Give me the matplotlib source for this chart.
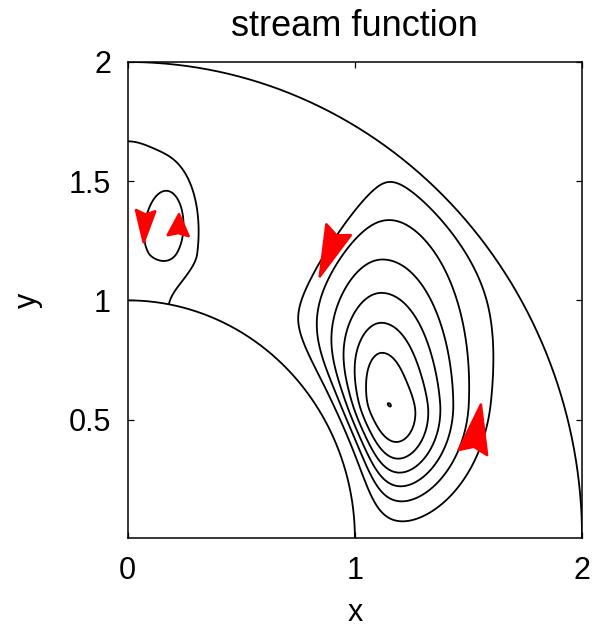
import numpy as np
import matplotlib
matplotlib.use("Agg")
import matplotlib.pyplot as plt

plt.rcParams["font.family"] = ["Liberation Sans", "DejaVu Sans"]

# ---- annulus geometry (quarter domain) ----
r_inner = 1.0
r_outer = 2.0

# ---- main convection cell ----
main_center = (1.1189, 0.5683)                   # core location (x, y)
main_scales = (0.3314, 0.2908, 0.6479, 0.3985)   # right, left, up, down
main_shape = (2.028, 0.6009, 1.3315)             # exponent base, variation, direction
inner_layer = 0.1268                             # no-slip layer at r = 1
outer_layer = 0.0640                             # no-slip layer at r = 2
separatrix = (0.9527, 0.0247)                    # angle and width of the cell edge (rad)

# ---- small cell near the vertical axis ----
small_base = (0.2663, 1.1971)        # broad part: amplitude, height
small_base_scales = (0.3547, 0.5954, 0.0994)   # width, upward, downward
small_base_tail = 0.3908             # decay towards the inner wall
small_peak = (0.2089, 0.185, 1.3282)  # core: amplitude, x, y
small_peak_scales = (0.0866, 0.17)   # core width, height

# ---- contour levels (fraction of the main-cell maximum) ----
levels = np.array([1, 2, 3, 4, 5, 6, 6.996]) / 7.0

# ---- direction markers on the streamlines ----
arrow_tip_x = [0.07, 0.226, 0.844, 1.555]
arrow_tip_y = [1.24, 1.364, 1.097, 0.566]
arrow_base_x = [0.079, 0.222, 0.929, 1.519]
arrow_base_y = [1.378, 1.27, 1.298, 0.36]
arrow_base_w = [0.088, 0.096, 0.12, 0.13]

x_ticks = [0, 1, 2]
y_ticks = [0.5, 1, 1.5, 2]


def main_cell(X, Y):
    cx, cy = main_center
    sr, sl, su, sd = main_scales
    dx, dy = X - cx, Y - cy
    ax_ = np.where(dx >= 0, sr, sl)
    ay_ = np.where(dy >= 0, su, sd)
    rho = np.sqrt((dx / ax_) ** 2 + (dy / ay_) ** 2)
    p0, p1, pdir = main_shape
    p = p0 - p1 * np.cos(np.arctan2(dy, dx) - pdir)
    R = np.hypot(X, Y)
    s_in = np.clip(R - r_inner, 0, None)
    s_out = np.clip(r_outer - R, 0, None)
    theta = np.arctan2(Y, X)
    th0, dth = separatrix
    edge = 1.0 / (1.0 + np.exp(np.clip((theta - th0) / dth, -50, 50)))
    return (np.exp(-rho ** p) * np.tanh(s_in / inner_layer) ** 2
            * np.tanh(s_out / outer_layer) ** 2 * edge)


def small_cell(X, Y):
    mb, yb = small_base
    ab, bu, bd = small_base_scales
    dy = Y - yb
    g = np.where(dy >= 0, (dy / bu) ** 2,
                 small_base_tail * (1 - np.exp(-(dy / bd) ** 2)))
    base = mb * np.exp(-(X / ab) ** 2 - g)
    mp, xp, yp = small_peak
    ap, bp = small_peak_scales
    core = sum(mp * np.exp(-((X - sgn * xp) / ap) ** 2 - ((Y - yp) / bp) ** 2)
               for sgn in (1, -1))
    return base + core


n = 801
xs = np.linspace(0, 2, n)
X, Y = np.meshgrid(xs, xs)
R = np.hypot(X, Y)
inside = (R >= r_inner) & (R <= r_outer)

psi_main = main_cell(X, Y)
psi_main = psi_main / psi_main[inside].max()
psi = psi_main + small_cell(X, Y)
psi = np.ma.masked_where(~inside, psi)

fig = plt.figure(figsize=(5.94, 6.28), dpi=100)
ax = fig.add_axes([0.215, 0.1433, 0.765, 0.758])

lw = 1.3
ax.contour(X, Y, psi, levels=levels, colors="black", linewidths=lw)

th = np.linspace(0, np.pi / 2, 400)
for rad in (r_inner, r_outer):
    ax.plot(rad * np.cos(th), rad * np.sin(th), color="black", lw=lw)

for tx, ty, bx, by, bw in zip(arrow_tip_x, arrow_tip_y, arrow_base_x,
                              arrow_base_y, arrow_base_w):
    ux, uy = bx - tx, by - ty
    L = np.hypot(ux, uy)
    nx, ny = -uy / L, ux / L
    px = [tx, bx + nx * bw / 2, tx + 0.88 * ux, bx - nx * bw / 2]
    py = [ty, by + ny * bw / 2, ty + 0.88 * uy, by - ny * bw / 2]
    ax.fill(px, py, facecolor="#ff0000", edgecolor="#ff0000", lw=1.5,
            zorder=5)

ax.set_xlim(0, 2)
ax.set_ylim(0.003, 2)
ax.set_xticks(x_ticks)
ax.set_xticklabels([str(v) for v in x_ticks])
ax.set_yticks(y_ticks)
ax.set_yticklabels(["0.5", "1", "1.5", "2"])
ax.tick_params(direction="in", length=4, width=0.9, top=True, right=True,
               labelsize=22)
ax.tick_params(axis="x", pad=13)
ax.tick_params(axis="y", pad=12)
for sp in ax.spines.values():
    sp.set_linewidth(1.1)

ax.set_title("stream function", fontsize=26, pad=19)
ax.set_xlabel("x", fontsize=22)
ax.set_ylabel("y", fontsize=22)
ax.xaxis.set_label_coords(0.5, -0.127)
ax.yaxis.set_label_coords(-0.187, 0.5)

fig.savefig("out.png", dpi=100)
